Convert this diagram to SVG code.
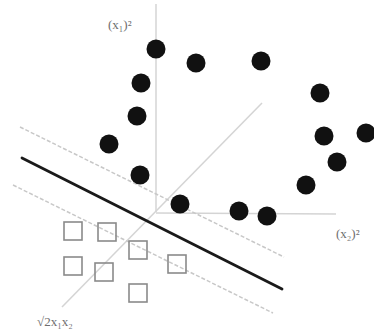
<svg xmlns="http://www.w3.org/2000/svg" width="374" height="334" viewBox="0 0 374 334">
<style>
.axis{stroke:#d4d4d4;stroke-width:1.5;fill:none}
.margin{stroke:#c8c8c8;stroke-width:1.5;fill:none;stroke-dasharray:4 2}
.sep{stroke:#1a1a1a;stroke-width:2.8;fill:none;stroke-linecap:round}
.pos{fill:#111}
.neg{fill:none;stroke:#8a8a8a;stroke-width:1.6}
.lbl{font-family:"Liberation Serif",serif;font-size:13px;fill:#6e6e6e}
</style>
<rect width="374" height="334" fill="#fff"/>
<g id="connectors">
<line class="axis" x1="156" y1="4" x2="156" y2="212"/>
<line class="axis" x1="156" y1="213" x2="336" y2="214"/>
<line class="axis" x1="62" y1="307" x2="262" y2="103"/>
<line class="margin" x1="20" y1="127" x2="284" y2="257"/>
<line class="margin" x1="13" y1="185" x2="273" y2="313"/>
<line class="sep" x1="22" y1="158" x2="282" y2="289"/>
</g>
<g id="labels">
<text class="lbl" x="108" y="29">(x₁)²</text>
<text class="lbl" x="336" y="238">(x₂)²</text>
<text class="lbl" x="37" y="326">√2x₁x₂</text>
</g>
<g id="positives">
<circle id="p1" class="pos" cx="156" cy="49" r="9.5"/>
<circle id="p2" class="pos" cx="196" cy="63" r="9.5"/>
<circle id="p3" class="pos" cx="261" cy="61" r="9.5"/>
<circle id="p4" class="pos" cx="141" cy="83" r="9.5"/>
<circle id="p5" class="pos" cx="320" cy="93" r="9.5"/>
<circle id="p6" class="pos" cx="137" cy="116" r="9.5"/>
<circle id="p7" class="pos" cx="109" cy="144" r="9.5"/>
<circle id="p8" class="pos" cx="324" cy="136" r="9.5"/>
<circle id="p9" class="pos" cx="366" cy="133" r="9.5"/>
<circle id="p10" class="pos" cx="337" cy="162" r="9.5"/>
<circle id="p11" class="pos" cx="140" cy="175" r="9.5"/>
<circle id="p12" class="pos" cx="306" cy="185" r="9.5"/>
<circle id="p13" class="pos" cx="180" cy="204" r="9.5"/>
<circle id="p14" class="pos" cx="239" cy="211" r="9.5"/>
<circle id="p15" class="pos" cx="267" cy="216" r="9.5"/>
</g>
<g id="negatives">
<rect id="n1" class="neg" x="64" y="222" width="18" height="18"/>
<rect id="n2" class="neg" x="98" y="223" width="18" height="18"/>
<rect id="n3" class="neg" x="129" y="241" width="18" height="18"/>
<rect id="n4" class="neg" x="168" y="255" width="18" height="18"/>
<rect id="n5" class="neg" x="64" y="257" width="18" height="18"/>
<rect id="n6" class="neg" x="95" y="263" width="18" height="18"/>
<rect id="n7" class="neg" x="129" y="284" width="18" height="18"/>
</g>
</svg>
